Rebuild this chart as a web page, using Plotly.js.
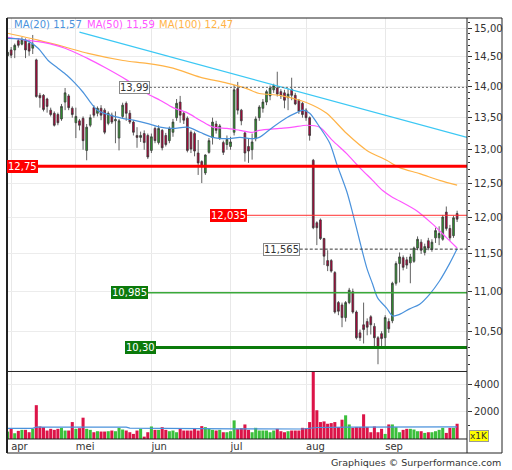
<!DOCTYPE html>
<html><head><meta charset="utf-8">
<script src="https://cdn.plot.ly/plotly-3.0.1.min.js"></script>
<style>html,body{margin:0;padding:0;background:#fff}#chart{width:512px;height:470px}</style>
</head><body><div id="chart"></div>
<script>
// ---- data (trading-day index 0..125) ----
const openP  = [14.52,14.62,14.62,14.78,14.72,14.79,14.73,14.65,14.45,13.86,13.86,13.80,13.62,13.57,13.55,13.48,13.75,13.85,13.65,13.42,13.45,13.49,12.99,13.38,13.66,13.57,13.65,13.62,13.41,13.54,13.45,13.18,13.52,13.73,13.57,13.43,13.22,13.19,13.25,13.22,12.99,13.33,13.11,13.30,13.22,13.14,13.27,13.50,13.75,13.57,13.49,13.27,13.25,12.95,12.82,12.65,12.96,13.19,13.40,13.18,13.11,13.08,13.05,13.27,13.97,13.62,13.26,13.05,13.00,13.17,13.50,13.65,13.75,13.85,13.95,13.98,13.92,13.90,13.82,13.96,13.86,13.78,13.73,13.62,13.50,12.84,11.93,11.97,11.71,11.41,11.41,11.25,10.86,10.83,10.67,10.86,11.00,10.74,10.48,10.58,10.62,10.68,10.56,10.42,10.47,10.42,10.62,10.63,11.11,11.37,11.45,11.42,11.38,11.40,11.58,11.66,11.52,11.68,11.56,11.72,11.72,11.70,12.08,11.85,11.75,12.06];
const highP  = [14.62,14.67,14.73,14.82,14.84,14.82,14.80,14.88,14.47,13.90,13.88,13.82,13.66,13.60,13.58,13.72,13.98,13.88,13.68,13.66,13.48,13.52,13.40,13.55,13.70,13.68,13.70,13.65,13.60,13.58,13.60,13.48,13.74,13.76,13.62,13.46,13.35,13.28,13.30,13.25,13.25,13.36,13.38,13.32,13.26,13.36,13.48,13.80,13.85,13.60,13.52,13.30,13.28,13.15,12.84,12.93,13.18,13.50,13.45,13.40,13.14,13.22,13.20,14.03,14.08,13.64,13.28,13.18,13.25,13.52,13.70,13.80,13.95,14.02,14.05,14.25,13.96,13.95,13.97,14.15,13.90,13.80,13.75,13.65,13.52,12.86,11.95,11.99,11.72,11.55,11.43,11.27,10.88,10.86,10.88,11.05,11.04,10.76,10.52,10.86,10.66,10.70,10.60,10.44,10.50,10.70,10.66,11.13,11.40,11.52,11.48,11.46,11.50,11.60,11.74,11.70,11.64,11.72,11.70,11.86,11.88,12.04,12.16,11.90,12.03,12.10];
const lowP   = [14.50,14.48,14.48,14.66,14.70,14.48,14.52,14.55,13.82,13.66,13.60,13.58,13.52,13.36,13.38,13.45,13.62,13.62,13.50,13.18,13.30,13.00,12.84,13.35,13.50,13.52,13.46,13.24,13.38,13.40,13.10,12.99,13.48,13.45,13.40,13.22,13.03,13.12,13.00,12.86,12.95,13.10,13.08,12.99,13.05,13.10,13.20,13.45,13.42,13.40,12.96,12.95,12.90,12.62,12.50,12.62,12.94,13.08,13.25,13.15,12.92,13.00,13.00,13.22,13.55,13.38,12.82,12.80,12.85,13.13,13.45,13.58,13.70,13.78,13.90,13.84,13.80,13.65,13.62,13.78,13.70,13.56,13.50,13.45,13.14,11.84,11.62,11.69,11.35,11.27,11.25,10.72,10.70,10.55,10.62,10.84,10.72,10.40,10.38,10.35,10.45,10.46,10.29,10.10,10.30,10.30,10.48,10.60,11.08,11.12,11.28,11.30,11.11,11.38,11.55,11.50,11.48,11.55,11.53,11.65,11.62,11.68,11.82,11.68,11.72,11.94];
const closeP = [14.58,14.53,14.70,14.70,14.79,14.62,14.60,14.72,13.84,13.82,13.63,13.68,13.55,13.38,13.42,13.68,13.90,13.66,13.55,13.52,13.38,13.14,13.35,13.50,13.54,13.65,13.54,13.27,13.57,13.43,13.47,13.45,13.70,13.57,13.43,13.27,13.19,13.22,13.11,12.89,13.20,13.14,13.33,13.03,13.08,13.33,13.43,13.73,13.54,13.46,12.99,13.01,12.98,12.80,12.74,12.92,13.14,13.43,13.30,13.37,12.96,13.16,13.12,13.95,13.62,13.45,12.95,12.98,13.12,13.48,13.67,13.75,13.92,13.98,14.02,13.88,13.85,13.78,13.88,13.86,13.72,13.60,13.55,13.50,13.22,11.86,11.86,11.71,11.47,11.34,11.27,10.74,10.75,10.67,10.86,11.02,10.74,10.42,10.42,10.52,10.55,10.58,10.42,10.30,10.41,10.67,10.53,11.11,11.37,11.46,11.32,11.35,11.46,11.58,11.70,11.55,11.60,11.58,11.66,11.82,11.78,12.01,11.85,11.72,12.00,11.98];
const volume = [550,750,425,600,675,675,500,750,2500,925,875,625,750,675,750,825,625,625,1250,750,800,1575,750,675,500,575,550,550,575,625,575,825,700,625,500,375,625,750,175,500,925,675,675,875,675,575,625,500,750,625,625,625,750,625,950,875,750,675,625,675,500,500,575,1375,750,800,1075,675,500,825,625,625,625,500,625,750,575,500,575,625,625,625,825,800,1250,5000,2125,1250,1300,1125,1175,1250,875,1425,1750,1075,825,875,875,1825,875,500,925,500,750,375,1075,1075,875,500,675,750,750,700,575,575,450,500,500,575,675,825,450,825,825,1125];

const ma20X  = [0,5,8.5,11.3,14,16.5,18.75,21,23,25,28.5,32,35,38.75,42.4,46,50,53.5,57,61,64.6,68.2,70,73.75,77.6,80.4,82.1,84,86.8,89.6,91.5,94.3,96,97.9,99.9,101.5,102.9,105.4,107.1,109,111.8,114.6,117.4,120.1,122.9,125];
const ma20Y  = [14.82,14.79,14.65,14.44,14.31,14.19,14.06,13.91,13.75,13.62,13.54,13.49,13.46,13.41,13.35,13.33,13.35,13.27,13.19,13.17,13.19,13.17,13.19,13.35,13.50,13.58,13.62,13.57,13.35,13.10,12.79,12.38,12.06,11.68,11.31,11.10,10.92,10.79,10.69,10.71,10.78,10.84,10.97,11.14,11.37,11.57];
const ma50X  = [0,5,9.9,16,22.1,27.1,33.2,38.75,42.4,46,49.9,53.5,57.1,61,64.6,68.2,70,75.7,79.3,83.2,86.8,90.4,94.3,97.9,101.5,104.3,107.1,109,113.75,118.2,122.1,125];
const ma50Y  = [14.84,14.79,14.75,14.65,14.48,14.32,14.11,13.89,13.78,13.66,13.58,13.46,13.35,13.33,13.30,13.27,13.30,13.33,13.35,13.38,13.35,13.14,12.94,12.73,12.54,12.39,12.29,12.24,12.10,11.91,11.72,11.58];
const ma100X = [0,8.5,16,22.4,32.1,38.75,46,53.5,61,66.5,70,75.7,81.25,84.85,88.75,94.3,99.9,105.4,109,114.6,120.1,125];
const ma100Y = [14.91,14.79,14.67,14.56,14.44,14.39,14.31,14.16,14.06,13.97,13.89,13.86,13.78,13.70,13.57,13.25,12.99,12.84,12.73,12.64,12.54,12.47];
const volMaX = [0,7,8,33,34,62,63,82,86,95,125];
const volMaY = [780,780,880,880,800,800,750,740,850,880,900];

const trendX = [20,127.75];
const trendY = [14.93,13.19];

const levelValues = [13.99,12.75,12.035,11.565,10.985,10.30];
const levelLabels = ['13,99','12,75','12,035','11,565','10,985','10,30'];
const levelStart  = [39.6,-0.15,66.5,81.25,39,41.25];

const monthStarts = [1,19,40,62,83,105];
const monthLabels = ['apr','mei','jun','jul','aug','sep'];

const maNames  = ['MA(20)','MA(50)','MA(100)'];
const maLast   = ['11,57','11,59','12,47'];

// ---- styling ----
const FONT = 'DejaVu Sans';
const xRange = [-0.15,127.75];
const levelStyle = [
  {color:'#666666', width:1, dash:'2px,2px', bg:'#ffffff', fc:'#333333', bc:'#888888'},
  {color:'#ff0000', width:3, dash:'solid',   bg:'#ff0000', fc:'#ffffff', bc:'#ff0000'},
  {color:'#ff3030', width:1, dash:'solid',   bg:'#ff0000', fc:'#ffffff', bc:'#ff0000'},
  {color:'#333333', width:1, dash:'3px,2px', bg:'#ffffff', fc:'#333333', bc:'#888888'},
  {color:'#3aa83a', width:1.5, dash:'solid', bg:'#0b7a0b', fc:'#ffffff', bc:'#0b7a0b'},
  {color:'#0b7a0b', width:3, dash:'solid',   bg:'#0b7a0b', fc:'#ffffff', bc:'#0b7a0b'}
];
const maColors = ['#4a92dc','#ff55ff','#ffb347'];

const idx = openP.map((_, i) => i);
const volColors = idx.map(i => closeP[i] >= openP[i] ? '#3cbf3c' : '#dc1448');

const traces = [];
// volume
traces.push({type:'bar', x:idx, y:volume, xaxis:'x', yaxis:'y2', marker:{color:volColors, line:{width:0}}, hoverinfo:'skip'});
traces.push({type:'scatter', mode:'lines', x:volMaX, y:volMaY, xaxis:'x', yaxis:'y2', line:{color:'#4a92dc', width:1.2}, hoverinfo:'skip'});
// trend line
traces.push({type:'scatter', mode:'lines', x:trendX, y:trendY, line:{color:'#3cc8f4', width:1.2}, hoverinfo:'skip'});
// moving averages
[[ma100X,ma100Y],[ma50X,ma50Y],[ma20X,ma20Y]].forEach((d,k)=>{
  traces.push({type:'scatter', mode:'lines', x:d[0], y:d[1], line:{color:maColors[2-k], width:1.2, shape:'spline', smoothing:0.8}, hoverinfo:'skip'});
});
// candles
traces.push({type:'candlestick', x:idx, open:openP, high:highP, low:lowP, close:closeP,
  increasing:{line:{color:'#3a3a3a', width:0.8}, fillcolor:'#2f9a2f'},
  decreasing:{line:{color:'#3a3a3a', width:0.8}, fillcolor:'#b5003a'},
  whiskerwidth:0, hoverinfo:'skip'});
// levels
levelValues.forEach((v,k)=>{
  const s = levelStyle[k];
  traces.push({type:'scatter', mode:'lines', x:[levelStart[k], xRange[1]], y:[v,v],
    line:{color:s.color, width:s.width, dash:s.dash}, hoverinfo:'skip'});
});

const annotations = [];
levelValues.forEach((v,k)=>{
  const s = levelStyle[k];
  const a = {text:levelLabels[k], y:Math.log10(v), yref:'y', yanchor:'middle', showarrow:false,
    font:{family:FONT, size:10, color:s.fc}, bgcolor:s.bg, bordercolor:s.bc, borderwidth:1, borderpad:0};
  if (levelStart[k] <= xRange[0]) { a.xref='paper'; a.x=0; a.xanchor='left'; }
  else { a.xref='x'; a.x=levelStart[k]; a.xanchor='right'; }
  annotations.push(a);
});
const legendX = [5, 78, 150];
maNames.forEach((n,k)=>{
  annotations.push({text:n+' '+maLast[k], xref:'paper', yref:'paper', x:legendX[k]/460, y:0.984,
    xanchor:'left', yanchor:'middle', showarrow:false, font:{family:FONT, size:10, color:maColors[k]}});
});
annotations.push({text:'x1K', xref:'paper', yref:'paper', x:1+2/460, y:0.039, xanchor:'left', yanchor:'middle',
  showarrow:false, font:{family:FONT, size:9, color:'#333'}, bgcolor:'#ffff00', bordercolor:'#999', borderwidth:1, borderpad:0});
annotations.push({text:'Graphiques © Surperformance.com', xref:'paper', yref:'paper', x:1.0783, y:-0.021,
  xanchor:'right', yanchor:'middle', showarrow:false, font:{family:FONT, size:9.5, color:'#333'}});

const minorVals = [];
for (let v = 10.1; v < 15.2; v += 0.1) minorVals.push(Math.round(v*10)/10);
const majorVals = [];
for (let v = 10.5; v <= 15.01; v += 0.5) majorVals.push(Math.round(v*10)/10);

const layout = {
  width:512, height:470, margin:{l:7, r:45, t:18, b:17},
  paper_bgcolor:'#fff', plot_bgcolor:'#fff', showlegend:false, hovermode:false,
  separators:', ',
  font:{family:FONT, size:10, color:'#333'},
  xaxis:{range:xRange, anchor:'y2', rangeslider:{visible:false}, tickmode:'array', tickvals:monthStarts, ticktext:monthLabels,
    ticks:'', ticklabelposition:'outside right', showgrid:true, gridcolor:'#e8e8e8', zeroline:false, showline:false,
    tickfont:{family:FONT, size:10, color:'#333'}},
  yaxis:{type:'log', domain:[0.1885,1], range:[Math.log10(10.02), Math.log10(15.18)], side:'right', anchor:'x',
    tickmode:'array', tickvals:majorVals, tickformat:'.2f', ticks:'outside', ticklen:4, tickcolor:'#333',
    minor:{tickmode:'array', tickvals:minorVals, ticks:'outside', ticklen:2, tickcolor:'#333'},
    showgrid:true, gridcolor:'#ececec', zeroline:false, showline:false, tickfont:{family:FONT, size:10, color:'#333'}},
  yaxis2:{domain:[0.0322,0.1862], range:[0,4950], side:'right', anchor:'x', tickmode:'array', tickvals:[2000,4000], tickformat:'d',
    ticks:'outside', ticklen:4, tickcolor:'#333', minor:{tickmode:'array', tickvals:[1000,3000], ticks:'outside', ticklen:2, tickcolor:'#333'},
    showgrid:true, gridcolor:'#ececec', zeroline:false, showline:false, tickfont:{family:FONT, size:10, color:'#333'}},
  bargap:0.15,
  shapes:[
    {type:'rect', xref:'paper', yref:'paper', x0:0, x1:1.0761, y0:0, y1:1, line:{color:'#222', width:1}},
    {type:'line', xref:'paper', yref:'paper', x0:0, x1:0, y0:0, y1:1, line:{color:'#222', width:2}},
    {type:'line', xref:'paper', yref:'paper', x0:1, x1:1, y0:0, y1:1, line:{color:'#222', width:1}},
    {type:'line', xref:'paper', yref:'paper', x0:0, x1:1, y0:0.1874, y1:0.1874, line:{color:'#222', width:1}},
    {type:'line', xref:'paper', yref:'paper', x0:0, x1:1, y0:0.0322, y1:0.0322, line:{color:'#222', width:1}}
  ],
  annotations:annotations
};

Plotly.newPlot('chart', traces, layout, {staticPlot:true, displayModeBar:false});
</script>
</body></html>
